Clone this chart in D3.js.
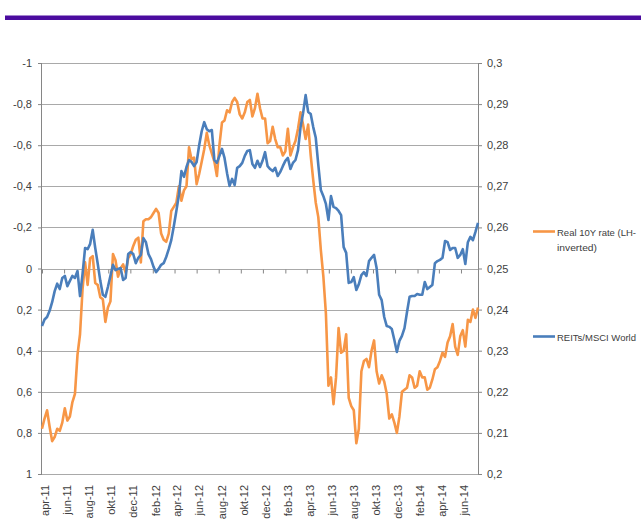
<!DOCTYPE html>
<html>
<head>
<meta charset="utf-8">
<script src="https://cdnjs.cloudflare.com/ajax/libs/d3/7.8.5/d3.min.js"></script>
<style>
    body { margin: 0; background: #fff; }
    text { font-family: "Liberation Sans", Arial, sans-serif; }
</style>
</head>
<body>
<div id="canvas"></div>
<script>
// weekly observations, first one 1 Apr 2011
const startDate = new Date(2011, 3, 1);
const stepDays = 7;

// Real 10Y rate (left axis, inverted)
const realRate = [
    0.78, 0.73, 0.69, 0.77, 0.84, 0.82, 0.78, 0.79, 0.75, 0.68,
    0.74, 0.72, 0.65, 0.61, 0.42, 0.32, 0.10, -0.03, 0.08, -0.05,
    -0.06, 0.07, 0.08, 0.14, 0.15, 0.26, 0.19, 0.16, -0.07, -0.04,
    0.04, 0.00, -0.02, 0.02, -0.05, -0.07, -0.11, -0.14, -0.15, -0.03,
    -0.23, -0.24, -0.24, -0.25, -0.27, -0.29, -0.27, -0.17, -0.14, -0.13,
    -0.17, -0.28, -0.30, -0.32, -0.40, -0.33, -0.38, -0.40, -0.59, -0.53,
    -0.54, -0.41, -0.46, -0.52, -0.58, -0.66, -0.60, -0.56, -0.52, -0.45,
    -0.60, -0.71, -0.72, -0.77, -0.76, -0.81, -0.83, -0.81, -0.75, -0.73,
    -0.76, -0.81, -0.82, -0.74, -0.78, -0.85, -0.78, -0.73, -0.73, -0.61,
    -0.62, -0.69, -0.63, -0.59, -0.59, -0.55, -0.57, -0.68, -0.55, -0.59,
    -0.62, -0.68, -0.76, -0.70, -0.63, -0.70, -0.55, -0.43, -0.32, -0.25,
    -0.09, 0.04, 0.22, 0.57, 0.53, 0.66, 0.53, 0.29, 0.41, 0.40,
    0.32, 0.63, 0.67, 0.69, 0.85, 0.78, 0.50, 0.45, 0.44, 0.48,
    0.40, 0.35, 0.50, 0.56, 0.52, 0.55, 0.61, 0.73, 0.71, 0.75,
    0.80, 0.72, 0.60, 0.59, 0.58, 0.52, 0.53, 0.58, 0.57, 0.50,
    0.53, 0.53, 0.59, 0.58, 0.54, 0.49, 0.48, 0.45, 0.41, 0.43,
    0.36, 0.33, 0.27, 0.38, 0.42, 0.33, 0.30, 0.38, 0.25, 0.26,
    0.20, 0.24, 0.19
];

// REITs / MSCI World (right axis)
const reitsRatio = [
    0.2360, 0.2376, 0.2382, 0.2397, 0.2418, 0.2445, 0.2463, 0.2450, 0.2477, 0.2482,
    0.2457, 0.2470, 0.2482, 0.2477, 0.2494, 0.2433, 0.2487, 0.2550, 0.2547, 0.2560,
    0.2594, 0.2550, 0.2511, 0.2470, 0.2436, 0.2431, 0.2455, 0.2482, 0.2509, 0.2496,
    0.2499, 0.2501, 0.2472, 0.2477, 0.2535, 0.2540, 0.2535, 0.2513, 0.2526, 0.2533,
    0.2574, 0.2564, 0.2535, 0.2523, 0.2504, 0.2491, 0.2499, 0.2509, 0.2513, 0.2528,
    0.2547, 0.2569, 0.2603, 0.2640, 0.2679, 0.2737, 0.2723, 0.2747, 0.2764, 0.2759,
    0.2749, 0.2759, 0.2800, 0.2834, 0.2856, 0.2839, 0.2834, 0.2837, 0.2764, 0.2757,
    0.2774, 0.2791, 0.2769, 0.2732, 0.2701, 0.2718, 0.2703, 0.2745, 0.2749, 0.2757,
    0.2774, 0.2786, 0.2788, 0.2754, 0.2745, 0.2762, 0.2747, 0.2762, 0.2783, 0.2749,
    0.2742, 0.2737, 0.2745, 0.2725, 0.2735, 0.2749, 0.2762, 0.2769, 0.2742, 0.2757,
    0.2764, 0.2788, 0.2844, 0.2878, 0.2922, 0.2881, 0.2876, 0.2844, 0.2818, 0.2752,
    0.2691, 0.2676, 0.2657, 0.2618, 0.2676, 0.2650, 0.2647, 0.2640, 0.2630, 0.2552,
    0.2538, 0.2465, 0.2467, 0.2479, 0.2448, 0.2462, 0.2484, 0.2491, 0.2482, 0.2518,
    0.2526, 0.2533, 0.2501, 0.2436, 0.2423, 0.2382, 0.2360, 0.2358, 0.2353, 0.2326,
    0.2297, 0.2324, 0.2336, 0.2355, 0.2394, 0.2431, 0.2433, 0.2433, 0.2438, 0.2436,
    0.2436, 0.2467, 0.2450, 0.2455, 0.2460, 0.2513, 0.2518, 0.2521, 0.2526, 0.2567,
    0.2564, 0.2545, 0.2550, 0.2550, 0.2526, 0.2533, 0.2547, 0.2511, 0.2564, 0.2577,
    0.2569, 0.2589, 0.2611
];

const leftTicks = [-1, -0.8, -0.6, -0.4, -0.2, 0, 0.2, 0.4, 0.6, 0.8, 1];
const leftTickLabels = ["-1", "-0,8", "-0,6", "-0,4", "-0,2", "0", "0,2", "0,4", "0,6", "0,8", "1"];
const rightTicks = [0.2, 0.21, 0.22, 0.23, 0.24, 0.25, 0.26, 0.27, 0.28, 0.29, 0.3];
const rightTickLabels = ["0,2", "0,21", "0,22", "0,23", "0,24", "0,25", "0,26", "0,27", "0,28", "0,29", "0,3"];
const monthLabels = ["apr-11", "jun-11", "aug-11", "okt-11", "dec-11", "feb-12", "apr-12", "jun-12",
    "aug-12", "okt-12", "dec-12", "feb-13", "apr-13", "jun-13", "aug-13", "okt-13", "dec-13",
    "feb-14", "apr-14", "jun-14"];

// legend text, with the width each line takes in the picture
const legendRate = [["Real 10Y rate (LH-", 79], ["inverted)", 40]];
const legendReits = [["REITs/MSCI World", 79]];

const dates = realRate.map((d, i) => d3.timeDay.offset(startDate, i * stepDays));
const tickDates = monthLabels.map((d, i) => d3.timeMonth.offset(startDate, i * 2));

const width = 641;
const height = 522;
const margin = { top: 63, left: 42, bottom: 48, right: 163 };
const iwidth = width - margin.left - margin.right;
const iheight = height - margin.top - margin.bottom;

const orange = "#f79646";
const blue = "#4a7ebb";
const axisGray = "#868686";
const gridGray = "#a9a9a9";
const textColor = "#404040";

const svg = d3.select("#canvas").append("svg")
    .attr("width", width)
    .attr("height", height);

svg.append("rect")
    .attr("width", width)
    .attr("height", height)
    .attr("fill", "#fff");

// purple rule under the (cut off) header
svg.append("rect")
    .attr("x", 5)
    .attr("y", 15.5)
    .attr("width", width - 5)
    .attr("height", 4.5)
    .attr("fill", "#4b0c9f");

const g = svg.append("g").attr("transform", `translate(${margin.left},${margin.top})`);

const x = d3.scaleTime()
    .domain([dates[0], dates[dates.length - 1]])
    .range([0, iwidth]);

const y = d3.scaleLinear()
    .domain([-1, 1])
    .range([0, iheight]);

const y2 = d3.scaleLinear()
    .domain([0.2, 0.3])
    .range([iheight, 0]);

// gridlines
g.append("g")
    .selectAll("line")
    .data(leftTicks)
    .enter().append("line")
    .attr("x1", 0)
    .attr("x2", iwidth)
    .attr("y1", d => Math.round(y(d)) + 0.5)
    .attr("y2", d => Math.round(y(d)) + 0.5)
    .attr("stroke", gridGray)
    .attr("stroke-width", 1.2);

// month ticks hanging from the zero line
const xTicks = g.append("g")
    .attr("transform", `translate(0, ${Math.round(y(0)) + 0.5})`)
    .call(d3.axisBottom(x).tickValues(tickDates).tickSize(4).tickFormat(""));
xTicks.select(".domain").remove();
xTicks.selectAll("line").attr("stroke", axisGray);

// month labels along the bottom
g.append("g")
    .selectAll("text")
    .data(tickDates)
    .enter().append("text")
    .attr("transform", d => `translate(${x(d) + 3}, ${iheight + 11}) rotate(-90)`)
    .attr("text-anchor", "end")
    .attr("dy", "0.35em")
    .style("font-size", "11px")
    .attr("fill", textColor)
    .text((d, i) => monthLabels[i]);

// left axis
const yAxis = g.append("g")
    .call(d3.axisLeft(y).tickValues(leftTicks).tickSize(4).tickPadding(6)
        .tickFormat((d, i) => leftTickLabels[i]));
yAxis.select(".domain").attr("stroke", axisGray).attr("d", `M-0.5,0V${iheight}`);
yAxis.selectAll("line").attr("stroke", axisGray);
yAxis.selectAll("text").attr("fill", textColor).style("font-size", "11px")
    .style("font-family", "Liberation Sans, Arial, sans-serif");

// right axis
const y2Axis = g.append("g")
    .attr("transform", `translate(${iwidth}, 0)`)
    .call(d3.axisRight(y2).tickValues(rightTicks).tickSize(4).tickPadding(5)
        .tickFormat((d, i) => rightTickLabels[i]));
y2Axis.select(".domain").attr("stroke", axisGray).attr("d", `M0.5,0V${iheight}`);
y2Axis.selectAll("line").attr("stroke", axisGray);
y2Axis.selectAll("text").attr("fill", textColor).style("font-size", "11px")
    .style("font-family", "Liberation Sans, Arial, sans-serif");

// series
const rateLine = d3.line()
    .x((d, i) => x(dates[i]))
    .y(d => y(d));

const reitsLine = d3.line()
    .x((d, i) => x(dates[i]))
    .y(d => y2(d));

g.append("path")
    .datum(realRate)
    .attr("fill", "none")
    .attr("stroke", orange)
    .attr("stroke-width", 2.6)
    .attr("stroke-linejoin", "round")
    .attr("d", rateLine);

g.append("path")
    .datum(reitsRatio)
    .attr("fill", "none")
    .attr("stroke", blue)
    .attr("stroke-width", 2.6)
    .attr("stroke-linejoin", "round")
    .attr("d", reitsLine);

// legend
const legend = svg.append("g");

legend.append("line")
    .attr("x1", 533).attr("x2", 555)
    .attr("y1", 231.5).attr("y2", 231.5)
    .attr("stroke", orange).attr("stroke-width", 2.6);

legend.selectAll("text.rate")
    .data(legendRate)
    .enter().append("text")
    .attr("class", "rate")
    .attr("x", 557)
    .attr("y", (d, i) => 235.5 + i * 15)
    .attr("textLength", d => d[1])
    .attr("lengthAdjust", "spacingAndGlyphs")
    .style("font-size", "9.6px")
    .attr("fill", textColor)
    .text(d => d[0]);

legend.append("line")
    .attr("x1", 533).attr("x2", 555)
    .attr("y1", 336.5).attr("y2", 336.5)
    .attr("stroke", blue).attr("stroke-width", 2.6);

legend.selectAll("text.reits")
    .data(legendReits)
    .enter().append("text")
    .attr("class", "reits")
    .attr("x", 557)
    .attr("y", 340.5)
    .attr("textLength", d => d[1])
    .attr("lengthAdjust", "spacingAndGlyphs")
    .style("font-size", "9.6px")
    .attr("fill", textColor)
    .text(d => d[0]);
</script>
</body>
</html>
